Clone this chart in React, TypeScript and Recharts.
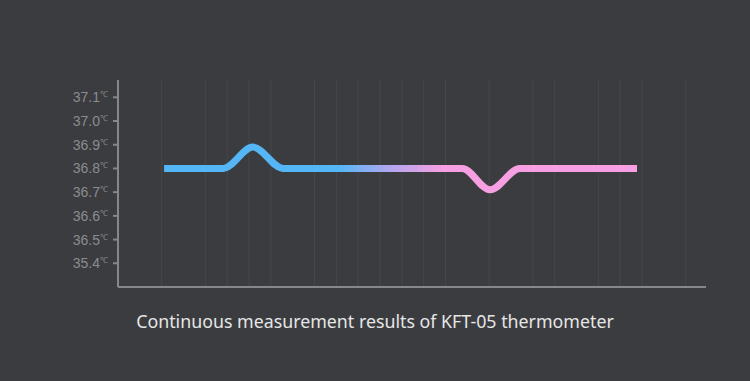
import { LineChart, Line, XAxis, YAxis, ReferenceLine } from 'recharts';

// x in grid units (one unit ≈ one faint column), y in ℃
const timePoints = [2.11, 4.81, 6.18, 7.56, 15.76, 17.04, 18.41, 23.77];
const tempValues = [36.8, 36.8, 36.89, 36.8, 36.8, 36.71, 36.8, 36.8];

const gridTicks = [2, 4, 5, 6, 7, 9, 10, 11, 12, 13, 14, 15, 17, 19, 20, 22, 23, 24, 26];

const yTickValues = [36.4, 36.5, 36.6, 36.7, 36.8, 36.9, 37.0, 37.1];
const yTickLabels = ['35.4', '36.5', '36.6', '36.7', '36.8', '36.9', '37.0', '37.1'];

const title = 'Continuous measurement results of KFT-05 thermometer';

const data = timePoints.map((t, i) => ({ t, temp: tempValues[i] }));

const TempTick = (props: any) => {
  const { x, y, payload } = props;
  const idx = yTickValues.findIndex((v) => Math.abs(v - payload.value) < 0.001);
  return (
    <text x={x - 3} y={y} dy={5} textAnchor="end" fill="#8b8c8f" fontFamily="Liberation Sans, Arial, sans-serif">
      <tspan fontSize={14}>{yTickLabels[idx]}</tspan>
      <tspan fontSize={8} dy={-5}>℃</tspan>
    </text>
  );
};

const NoTick = () => <g />;

export default function App() {
  return (
    <div style={{ position: 'fixed', left: 0, top: 0, width: 750, height: 381, background: '#3b3c40' }}>
      <LineChart width={750} height={381} data={data} margin={{ top: 80, right: 44, bottom: 93, left: 0 }}>
        <defs>
          <linearGradient id="tempGrad" x1="0" y1="0" x2="1" y2="0">
            <stop offset="0%" stopColor="#55b6f6" />
            <stop offset="37%" stopColor="#55b6f6" />
            <stop offset="48%" stopColor="#b4a6ee" />
            <stop offset="59%" stopColor="#f79fe3" />
            <stop offset="100%" stopColor="#f79fe3" />
          </linearGradient>
        </defs>
        {gridTicks.map((t) => (
          <ReferenceLine key={t} x={t} stroke="#46474b" strokeWidth={1} />
        ))}
        <XAxis
          dataKey="t"
          type="number"
          domain={[0, 26.93]}
          ticks={gridTicks}
          height={1}
          tick={<NoTick />}
          tickLine={false}
          axisLine={{ stroke: '#86878a', strokeWidth: 2 }}
        />
        <YAxis
          type="number"
          domain={[36.3, 37.173]}
          ticks={yTickValues}
          width={118}
          tickSize={5}
          tick={<TempTick />}
          tickLine={{ stroke: '#86878a', strokeWidth: 2 }}
          axisLine={{ stroke: '#86878a', strokeWidth: 2 }}
        />
        <Line
          type="monotone"
          dataKey="temp"
          stroke="url(#tempGrad)"
          strokeWidth={7}
          dot={false}
          activeDot={false}
          isAnimationActive={false}
        />
      </LineChart>
      <div
        style={{
          position: 'absolute',
          left: 0,
          width: 750,
          top: 309,
          textAlign: 'center',
          color: '#e6e6e6',
          fontFamily: '"Noto Sans", sans-serif',
          fontSize: 17.8,
        }}
      >
        {title}
      </div>
    </div>
  );
}
